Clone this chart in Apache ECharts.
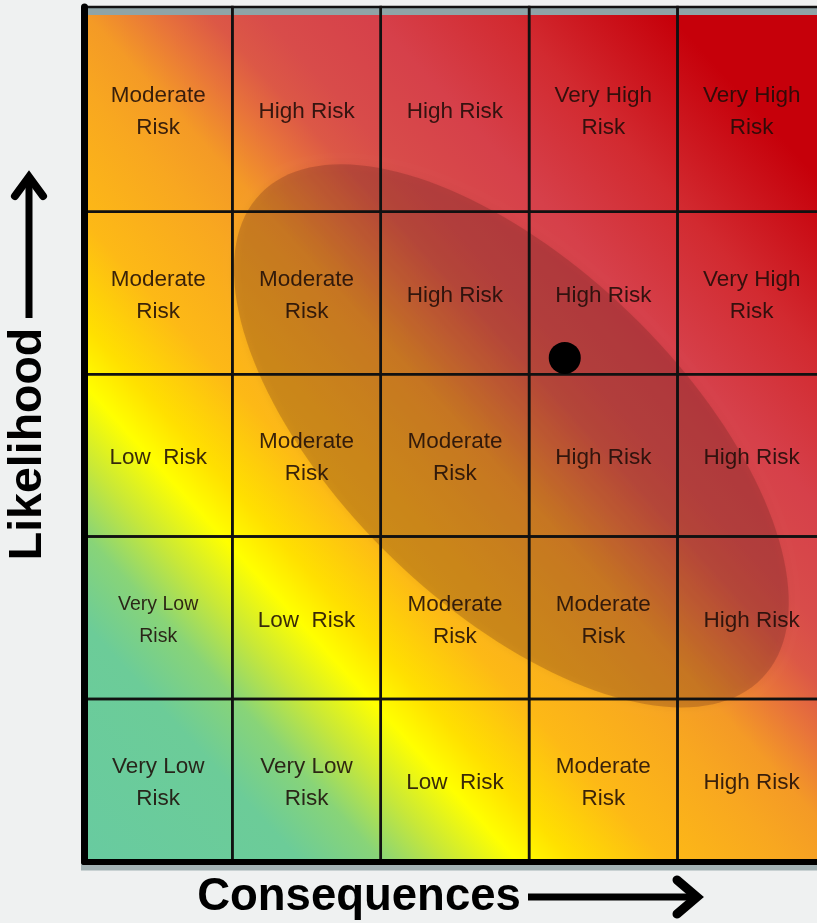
<!DOCTYPE html>
<html><head><meta charset="utf-8">
<script src="https://cdn.jsdelivr.net/npm/echarts@6/dist/echarts.min.js"></script>
<style>html,body{margin:0;padding:0;background:#eff1f1}#c{width:817px;height:923px}</style>
</head><body><div id="c"></div>
<script>
// ---- data ----
const consequenceLevels = [1, 2, 3, 4, 5];
const likelihoodLevels = [1, 2, 3, 4, 5];
// rows listed from lowest likelihood (bottom) to highest (top)
const riskLabelsRow1 = ['Very Low\nRisk', 'Very Low\nRisk', 'Low  Risk', 'Moderate\nRisk', 'High Risk'];
const riskLabelsRow2 = ['Very Low\nRisk', 'Low  Risk', 'Moderate\nRisk', 'Moderate\nRisk', 'High Risk'];
const riskLabelsRow3 = ['Low  Risk', 'Moderate\nRisk', 'Moderate\nRisk', 'High Risk', 'High Risk'];
const riskLabelsRow4 = ['Moderate\nRisk', 'Moderate\nRisk', 'High Risk', 'High Risk', 'Very High\nRisk'];
const riskLabelsRow5 = ['Moderate\nRisk', 'High Risk', 'High Risk', 'Very High\nRisk', 'Very High\nRisk'];
const riskLabels = [riskLabelsRow1, riskLabelsRow2, riskLabelsRow3, riskLabelsRow4, riskLabelsRow5];
const riskPoint = [[3.24, 3.10]];
const concentrationCenter = [2.88, 2.62];
const concentrationSemiAxes = [2.35, 1.15];
const concentrationAngleDeg = 44;

const X_MAX = 4.94;   // visible part of the last column
const Y_MAX = 5.26;   // top row is taller
const NC = consequenceLevels.length, NL = likelihoodLevels.length;
const cellData = [];
for (let r = 0; r < NL; r++) for (let c = 0; c < NC; c++) cellData.push([c, r]);

const chart = echarts.init(document.getElementById('c'), null, {renderer: 'canvas'});

const gradStops = [
  {offset: 0, color: '#68cba0'},
  {offset: 0.16, color: '#6ccc98'},
  {offset: 0.22, color: '#88d478'},
  {offset: 0.27, color: '#c8e838'},
  {offset: 0.32, color: '#ffff00'},
  {offset: 0.36, color: '#ffe000'},
  {offset: 0.43, color: '#fdb916'},
  {offset: 0.52, color: '#f8a720'},
  {offset: 0.57, color: '#f49a26'},
  {offset: 0.62, color: '#e8743a'},
  {offset: 0.66, color: '#dc5846'},
  {offset: 0.70, color: '#d84c4a'},
  {offset: 0.78, color: '#d6404a'},
  {offset: 0.88, color: '#d22a30'},
  {offset: 1, color: '#c6000a'}
];

function renderFrame(params, api) {
  const p0 = api.coord([0, Y_MAX]);
  const p1 = api.coord([NC, 0]);
  return {type: 'group', children: [
    {type: 'rect', shape: {x: p0[0], y: p0[1], width: p1[0] - p0[0], height: p1[1] - p0[1]},
     style: {fill: new echarts.graphic.LinearGradient(0, 1, 1, 0.21, gradStops)}},
    {type: 'rect', shape: {x: p0[0], y: p0[1] + 1, width: p1[0] - p0[0], height: 7},
     style: {fill: '#8fa4a7'}},
    {type: 'rect', shape: {x: p0[0] - 3, y: p1[1] + 2, width: p1[0] - p0[0] + 3, height: 7},
     style: {fill: '#a3b3b5'}}
  ]};
}

function renderEllipse(params, api) {
  const c = api.coord([api.value(0), api.value(1)]);
  const unit = api.size([1, 1])[0];
  const a = concentrationSemiAxes[0] * unit, b = concentrationSemiAxes[1] * unit;
  const phi = concentrationAngleDeg * Math.PI / 180;
  const pts = [];
  for (let i = 0; i < 160; i++) {
    const t = i / 160 * Math.PI * 2;
    const ex = a * Math.cos(t), ey = b * Math.sin(t);
    pts.push([c[0] + ex * Math.cos(phi) - ey * Math.sin(phi), c[1] + ex * Math.sin(phi) + ey * Math.cos(phi)]);
  }
  return {type: 'polygon', shape: {points: pts},
    style: {fill: 'rgba(85,30,25,0.24)', shadowBlur: 10, shadowColor: 'rgba(60,20,10,0.25)'}};
}

function renderCell(params, api) {
  const c = api.value(0), r = api.value(1);
  const top = r === NL - 1 ? Y_MAX : r + 1;
  const p0 = api.coord([c, top]);
  const p1 = api.coord([c + 1, r]);
  const label = riskLabels[r][c];
  const small = (r === 1 && c === 0);
  return {type: 'group', children: [
    {type: 'rect', shape: {x: p0[0], y: p0[1], width: p1[0] - p0[0], height: p1[1] - p0[1]},
     style: {fill: 'none', stroke: '#111', lineWidth: 2.5}},
    {type: 'text', x: (p0[0] + p1[0]) / 2, y: (p0[1] + p1[1]) / 2 + 2.5,
     style: {text: label, align: 'center', verticalAlign: 'middle',
       font: (small ? '19.5px' : '22.5px') + ' "Liberation Sans", Arial, sans-serif',
       lineHeight: 32, fill: 'rgba(30,12,8,0.88)'}}
  ]};
}

const option = {
  backgroundColor: '#eff1f1',
  animation: false,
  grid: {left: 84, top: 7, right: 0, height: 854.5},
  xAxis: {type: 'value', min: 0, max: X_MAX, z: 10,
    axisLine: {show: true, onZero: false, lineStyle: {color: '#000', width: 6}},
    axisTick: {show: false}, axisLabel: {show: false}, splitLine: {show: false}},
  yAxis: {type: 'value', min: 0, max: Y_MAX, z: 10,
    axisLine: {show: true, onZero: false, lineStyle: {color: '#000', width: 7}},
    axisTick: {show: false}, axisLabel: {show: false}, splitLine: {show: false}},
  graphic: [
    {type: 'text', x: 28, y: 444, rotation: Math.PI / 2,
     style: {text: 'Likelihood', align: 'center', verticalAlign: 'middle',
       font: 'bold 46.5px "Liberation Sans", Arial, sans-serif', fill: '#000'}},
    {type: 'polyline', shape: {points: [[29, 318], [29, 178]]}, style: {stroke: '#000', lineWidth: 7, fill: null}},
    {type: 'polyline', shape: {points: [[15, 196], [29, 177], [43, 196]]}, style: {stroke: '#000', lineWidth: 8, fill: null, lineJoin: 'miter', lineCap: 'round'}},
    {type: 'text', x: 359, y: 897,
     style: {text: 'Consequences', align: 'center', verticalAlign: 'middle',
       font: 'bold 45.5px "Liberation Sans", Arial, sans-serif', fill: '#000'}},
    {type: 'polyline', shape: {points: [[528, 897], [695, 897]]}, style: {stroke: '#000', lineWidth: 7, fill: null}},
    {type: 'polyline', shape: {points: [[677, 880], [697, 897], [677, 914]]}, style: {stroke: '#000', lineWidth: 9, fill: null, lineJoin: 'miter', lineCap: 'round'}}
  ],
  series: [
    {type: 'custom', z: 1, silent: true, renderItem: renderFrame, data: [[0, 0]]},
    {type: 'custom', z: 2, silent: true, renderItem: renderEllipse, data: [concentrationCenter]},
    {type: 'custom', z: 3, silent: true, renderItem: renderCell, data: cellData},
    {type: 'scatter', z: 4, symbolSize: 32, itemStyle: {color: '#000', opacity: 1}, data: riskPoint}
  ]
};
chart.setOption(option);
</script></body></html>
